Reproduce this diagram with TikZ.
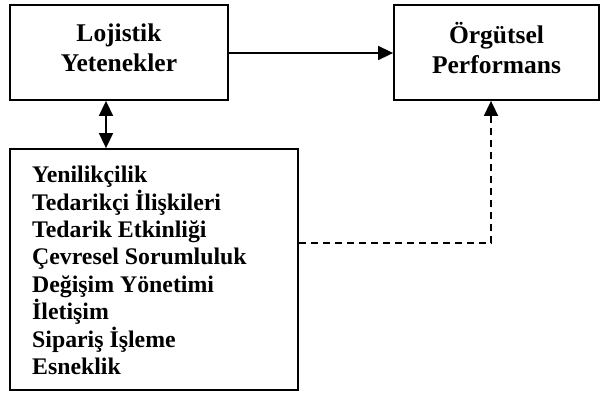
\documentclass[tikz,border=0pt]{standalone}
\usepackage{fontspec}
\setmainfont{Liberation Serif}
\usetikzlibrary{arrows.meta}
\begin{document}
\begin{tikzpicture}[x=1pt,y=-1pt,
  boxline/.style={draw,line width=1.8pt},
  conn/.style={line width=1.6pt,-{Triangle[width=14pt,length=15pt]}},
  bigtext/.style={font=\fontsize{25.5}{30}\selectfont\bfseries,align=center,inner sep=0pt},
  listtext/.style={font=\fontsize{23.8}{27.4}\selectfont\bfseries,align=left,inner sep=0pt},
]
\useasboundingbox (0,0) rectangle (600,394);
\node[boxline,minimum width=218pt,minimum height=95pt,inner sep=0pt] (lb) at (119,52.5) {};
\node[boxline,minimum width=205pt,minimum height=95pt,inner sep=0pt] (ob) at (496.5,52.5) {};
\node[boxline,minimum width=288pt,minimum height=241pt,inner sep=0pt] (yb) at (154,269.5) {};
\node[bigtext] (lt) at (119,48) {Lojistik\\Yetenekler};
\node[bigtext] (ot) at (496.5,48) {Örgütsel\\Performans};
\node[listtext,anchor=north west] (yt) at (32,166) {Yenilikçilik\\Tedarikçi İlişkileri\\Tedarik Etkinliği\\Çevresel Sorumluluk\\Değişim Yönetimi\\İletişim\\Sipariş İşleme\\Esneklik};
\draw[conn] (lb.east |- 0,53) -- (ob.west |- 0,53);
\draw[line width=1.6pt,{Triangle[width=14pt,length=15pt]}-{Triangle[width=14pt,length=15pt]}] (lb.south -| 106,0) -- (yb.north -| 106,0);
\coordinate (bend) at (491,243);
\draw[conn,dash pattern=on 7pt off 5pt] (yb.east |- bend) -- (bend) -- (ob.south -| bend);
\end{tikzpicture}
\end{document}
